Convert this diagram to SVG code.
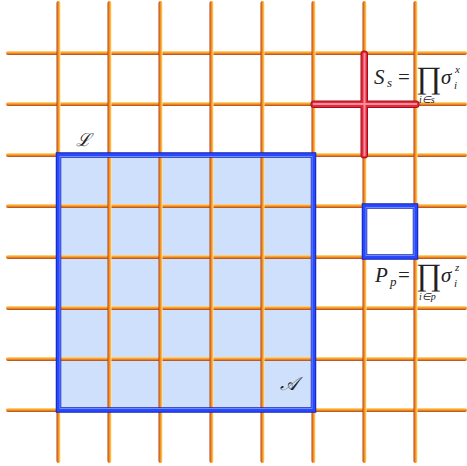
<svg xmlns="http://www.w3.org/2000/svg" width="467" height="466" viewBox="0 0 467 466">
<style>
.m{font-family:'Liberation Serif',serif;font-style:italic;fill:#222}
.r{font-family:'Liberation Serif',serif;fill:#222}
.v{fill:url(#gv)}
.h{fill:url(#gh)}
</style>
<defs>
<linearGradient id="gv" x1="0" y1="0" x2="1" y2="0">
<stop offset="0" stop-color="#a8401a"/>
<stop offset="0.35" stop-color="#ee7a22"/>
<stop offset="0.7" stop-color="#f9b235"/>
<stop offset="1" stop-color="#ffe49a"/>
</linearGradient>
<linearGradient id="gh" x1="0" y1="0" x2="0" y2="1">
<stop offset="0" stop-color="#ffe49a"/>
<stop offset="0.3" stop-color="#f9b235"/>
<stop offset="0.65" stop-color="#ee7a22"/>
<stop offset="1" stop-color="#9a4a28"/>
</linearGradient>
</defs>
<rect width="467" height="466" fill="#fff"/>
<g id="region-fill"><rect x="58.5" y="155" width="255" height="255" fill="#cfe0fc"/></g>
<g id="lattice">
<rect class="h" x="6" y="51" width="461" height="4" rx="2"/>
<rect class="h" x="6" y="102" width="461" height="4" rx="2"/>
<rect class="h" x="6" y="153" width="461" height="4" rx="2"/>
<rect class="h" x="6" y="204" width="461" height="4" rx="2"/>
<rect class="h" x="6" y="255" width="461" height="4" rx="2"/>
<rect class="h" x="6" y="306" width="461" height="4" rx="2"/>
<rect class="h" x="6" y="357" width="461" height="4" rx="2"/>
<rect class="h" x="6" y="408" width="461" height="4" rx="2"/>
<rect class="v" x="56.5" y="1" width="4" height="462" rx="2"/>
<rect class="v" x="107.5" y="1" width="4" height="462" rx="2"/>
<rect class="v" x="158.5" y="1" width="4" height="462" rx="2"/>
<rect class="v" x="209.5" y="1" width="4" height="462" rx="2"/>
<rect class="v" x="260.5" y="1" width="4" height="462" rx="2"/>
<rect class="v" x="311.5" y="1" width="4" height="462" rx="2"/>
<rect class="v" x="362.5" y="1" width="4" height="462" rx="2"/>
<rect class="v" x="413.5" y="1" width="4" height="462" rx="2"/>
</g>
<g id="region-A">
<rect x="58.5" y="155" width="255" height="255" fill="none" stroke="#1224b0" stroke-width="5.5"/>
<rect x="58.5" y="155" width="255" height="255" fill="none" stroke="#2a48ff" stroke-width="3.5"/>
<rect x="60" y="156.5" width="252" height="252" fill="none" stroke="#6f8cff" stroke-width="1"/>
</g>
<g id="plaquette">
<rect x="364.5" y="206" width="51" height="51" fill="none" stroke="#1224b0" stroke-width="5.5"/>
<rect x="364.5" y="206" width="51" height="51" fill="none" stroke="#2a48ff" stroke-width="3.5"/>
<rect x="366" y="207.5" width="48" height="48" fill="none" stroke="#6f8cff" stroke-width="1"/>
</g>
<g id="star">
<rect x="310.5" y="100.5" width="109" height="7.5" rx="3.5" fill="#a80c1c"/>
<rect x="360.5" y="50.5" width="7.5" height="108" rx="3.5" fill="#a80c1c"/>
<rect x="311.5" y="101.5" width="107" height="5.5" rx="2.5" fill="#e42a3a"/>
<rect x="361.5" y="51.5" width="5.5" height="106" rx="2.5" fill="#e42a3a"/>
<rect x="313" y="103" width="104" height="2" fill="#f590a0"/>
<rect x="363.5" y="53" width="2" height="103" fill="#f590a0"/>
</g>
<g id="labels">
<text class="m" x="76" y="146" font-size="18" style="font-family:'DejaVu Serif',serif">ℒ</text>
<text class="m" x="280" y="390" font-size="19" style="font-family:'DejaVu Serif',serif">𝒜</text>
<g id="star-label">
<text class="m" x="374" y="84" font-size="21">S</text>
<text class="m" x="387" y="87" font-size="13">s</text>
<text class="r" x="398" y="84" font-size="21">=</text>
<text class="r" x="416" y="88" font-size="31">∏</text>
<text class="m" x="441" y="84" font-size="21">σ</text>
<text class="m" x="455" y="73" font-size="11">x</text>
<text class="m" x="454" y="89" font-size="11">i</text>
<text class="m" x="419" y="103" font-size="10">i∈s</text>
</g>
<g id="plaquette-label">
<text class="m" x="375" y="282" font-size="21">P</text>
<text class="m" x="390" y="286" font-size="13">p</text>
<text class="r" x="398" y="282" font-size="21">=</text>
<text class="r" x="416" y="285" font-size="31">∏</text>
<text class="m" x="441" y="282" font-size="21">σ</text>
<text class="m" x="455" y="271" font-size="11">z</text>
<text class="m" x="454" y="287" font-size="11">i</text>
<text class="m" x="419" y="300" font-size="10">i∈p</text>
</g>
</g>
</svg>
